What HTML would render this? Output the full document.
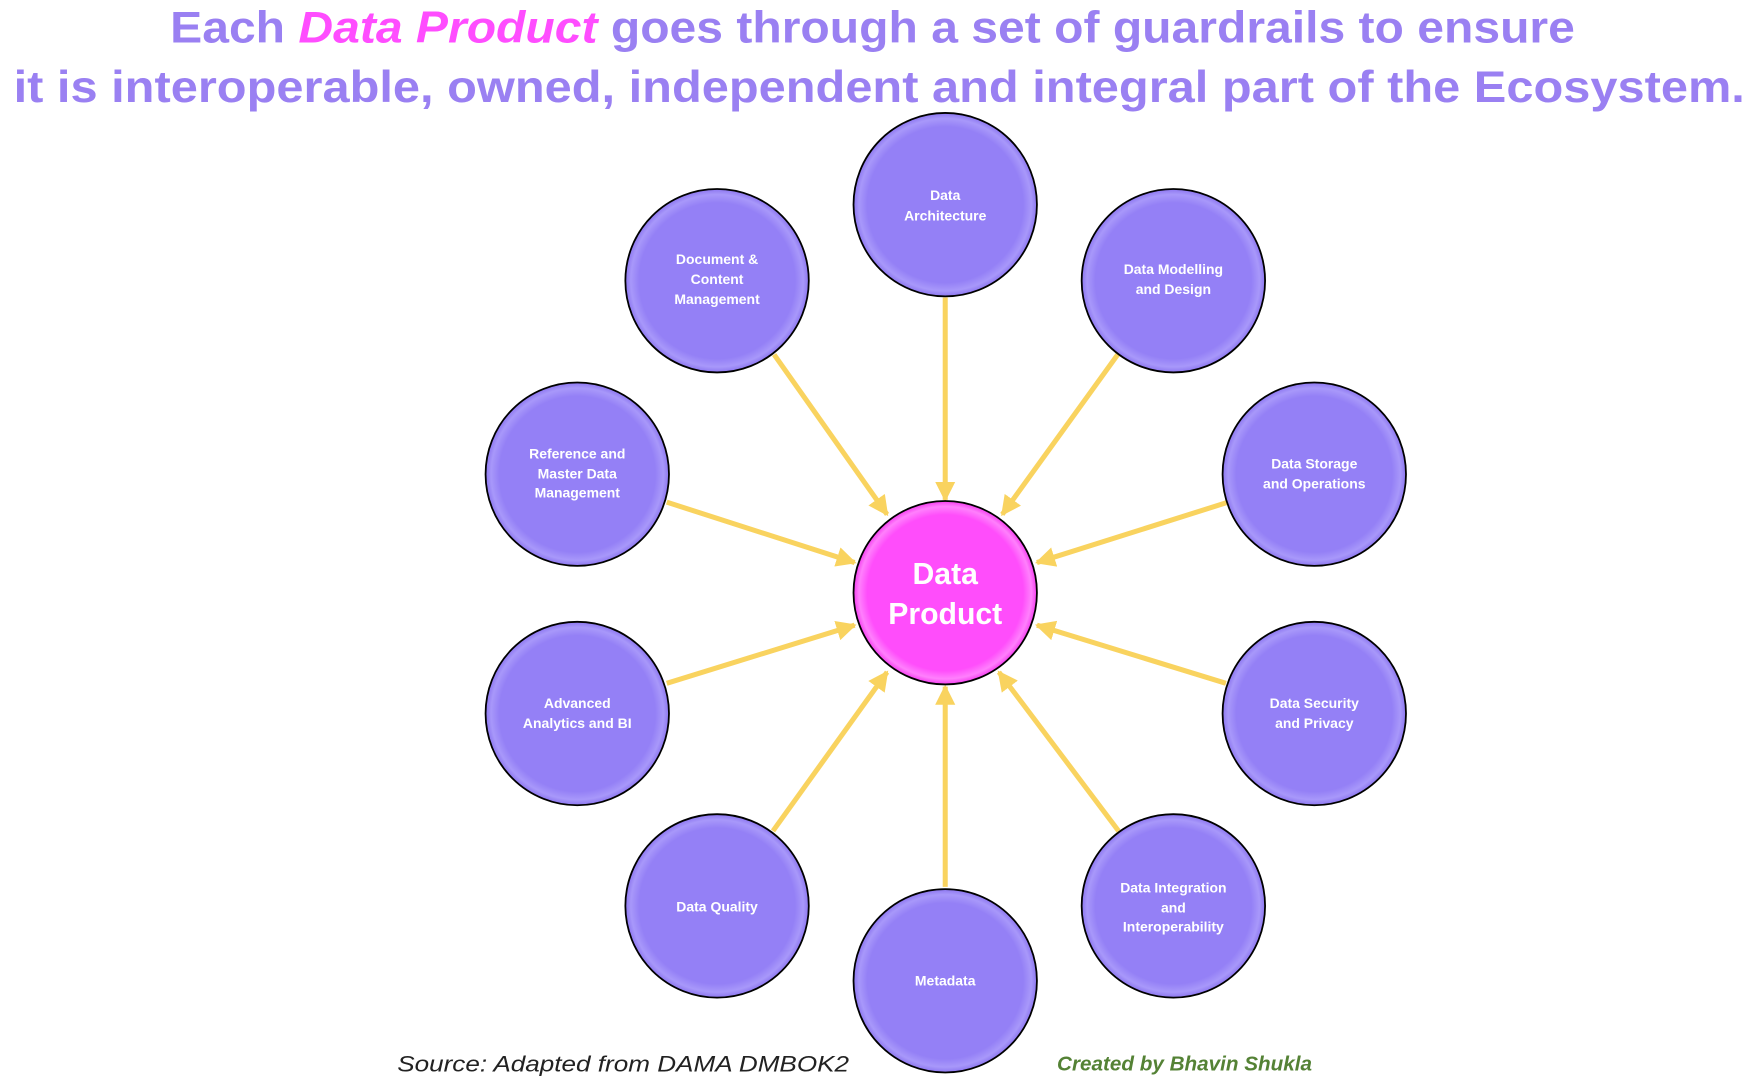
<!DOCTYPE html>
<html><head><meta charset="utf-8"><style>
html,body{margin:0;padding:0;background:#fff;}
svg{display:block;}
</style></head><body>
<svg width="1754" height="1077" viewBox="0 0 1568 963" xmlns="http://www.w3.org/2000/svg">
<defs>
<marker id="ah" viewBox="0 0 10 10" refX="9" refY="5" markerWidth="4" markerHeight="4" orient="auto" markerUnits="strokeWidth">
<path d="M0,0 L10,5 L0,10 z" fill="#f9d35f"/>
</marker>
<radialGradient id="gp" cx="50%" cy="50%" r="50%">
<stop offset="85%" stop-color="#9480f6"/><stop offset="94%" stop-color="#a898fa"/><stop offset="100%" stop-color="#8c76f0"/>
</radialGradient>
<radialGradient id="gm" cx="50%" cy="50%" r="50%">
<stop offset="85%" stop-color="#ff4dfb"/><stop offset="94%" stop-color="#ff80fc"/><stop offset="100%" stop-color="#f53cf0"/>
</radialGradient>
</defs>
<g font-family="'Liberation Sans',sans-serif" font-weight="bold" fill="#9a80f2">
<text x="152" y="38" font-size="40" textLength="1256" lengthAdjust="spacingAndGlyphs">Each <tspan fill="#ff4dff" font-style="italic">Data Product</tspan> goes through a set of guardrails to ensure</text>
<text x="12" y="91" font-size="40" textLength="1548" lengthAdjust="spacingAndGlyphs">it is interoperable, owned, independent and integral part of the Ecosystem.</text>
</g>
<g stroke="#f9d35f" stroke-width="4.5" marker-end="url(#ah)">
<line x1="845" y1="266" x2="845" y2="447"/>
<line x1="692" y1="317" x2="793" y2="460"/>
<line x1="1000" y1="316" x2="896" y2="460"/>
<line x1="596" y1="449" x2="764" y2="503"/>
<line x1="1098" y1="449" x2="927" y2="503"/>
<line x1="596" y1="611" x2="764" y2="559"/>
<line x1="1096" y1="611" x2="927" y2="559"/>
<line x1="691" y1="743" x2="793" y2="601"/>
<line x1="1000" y1="743" x2="893" y2="601"/>
<line x1="845" y1="793" x2="845" y2="614"/>
</g>
<g stroke="#000" stroke-width="1.6" fill="url(#gp)">
<circle cx="845" cy="183" r="82"/>
<circle cx="641" cy="251" r="82"/>
<circle cx="1049" cy="251" r="82"/>
<circle cx="516" cy="424" r="82"/>
<circle cx="1175" cy="424" r="82"/>
<circle cx="516" cy="638" r="82"/>
<circle cx="1175" cy="638" r="82"/>
<circle cx="641" cy="810" r="82"/>
<circle cx="1049" cy="810" r="82"/>
<circle cx="845" cy="877" r="82"/>
<circle cx="845" cy="530" r="82" fill="url(#gm)"/>
</g>
<g font-family="'Liberation Sans',sans-serif" font-weight="bold" fill="#fff" font-size="12.5" text-anchor="middle">
<text x="845" y="179">Data</text><text x="845" y="197">Architecture</text>
<text x="641" y="236">Document &amp;</text><text x="641" y="254">Content</text><text x="641" y="272">Management</text>
<text x="1049" y="245">Data Modelling</text><text x="1049" y="263">and Design</text>
<text x="516" y="410">Reference and</text><text x="516" y="428">Master Data</text><text x="516" y="445">Management</text>
<text x="1175" y="419">Data Storage</text><text x="1175" y="437">and Operations</text>
<text x="516" y="633">Advanced</text><text x="516" y="651">Analytics and BI</text>
<text x="1175" y="633">Data Security</text><text x="1175" y="651">and Privacy</text>
<text x="641" y="815">Data Quality</text>
<text x="1049" y="798">Data Integration</text><text x="1049" y="816">and</text><text x="1049" y="833">Interoperability</text>
<text x="845" y="881">Metadata</text>
<text x="845" y="522" font-size="27">Data</text><text x="845" y="558" font-size="27">Product</text>
</g>
<text x="355" y="958" font-family="'Liberation Sans',sans-serif" font-style="italic" font-size="20" fill="#222" textLength="404" lengthAdjust="spacingAndGlyphs">Source: Adapted from DAMA DMBOK2</text>
<text x="945" y="957" font-family="'Liberation Sans',sans-serif" font-style="italic" font-weight="bold" font-size="18" fill="#548235" textLength="228" lengthAdjust="spacingAndGlyphs">Created by Bhavin Shukla</text>
</svg>
</body></html>
